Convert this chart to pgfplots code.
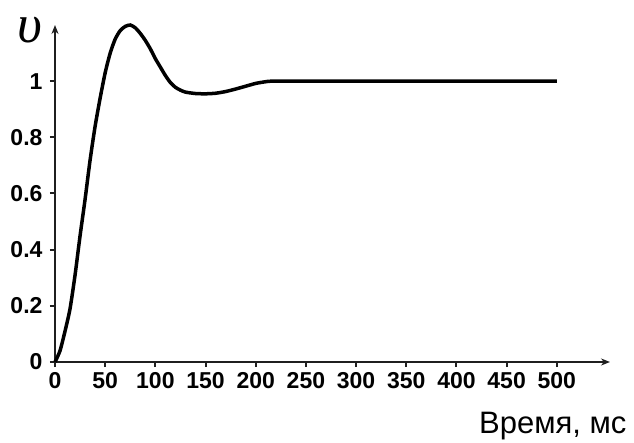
\documentclass[border=0pt]{standalone}
\usepackage{fontspec}
\setmainfont{Liberation Sans}
\newfontfamily\serifit{Liberation Serif}
\usepackage{pgfplots}
\pgfplotsset{compat=1.18}
\usetikzlibrary{arrows.meta}
\begin{document}
\begin{tikzpicture}
\begin{axis}[
  scale only axis, width=555pt, height=337pt,
  xmin=0, xmax=553, ymin=0, ymax=1.2,
  axis lines=left,
  axis line style={line width=2.5pt, color=black!88, -{Stealth[length=9pt,width=7pt]}},
  xtick={0,50,...,500}, ytick={0,0.2,0.4,0.6,0.8,1},
  tick align=outside, major tick length=5pt,
  tick style={line width=2pt, color=black!88},
  ticklabel style={font=\bfseries\fontsize{23}{23}\selectfont},
  xticklabel style={yshift=-2pt},
  /pgf/number format/assume math mode=true,
  yticklabel style={/pgf/number format/fixed, xshift=-4pt},
  xlabel={Время, мс},
  xlabel style={at={(rel axis cs:1,0)}, anchor=base east, xshift=20pt, yshift=-71pt, font=\fontsize{31}{31}\selectfont},
  ylabel={\serifit\itshape υ},
  ylabel style={rotate=-90, at={([xshift=-25pt,yshift=-5pt]rel axis cs:0,1)}, anchor=center, font=\fontsize{54}{54}\selectfont},
  clip=false,
]
\addplot[line width=3.5pt, black, smooth, tension=0.4] coordinates {
(0,0) (5,0.04) (10,0.11) (15,0.19) (20,0.31) (25,0.45) (30,0.58) (35,0.72)
(40,0.84) (45,0.94) (50,1.03) (55,1.10) (60,1.15) (65,1.18) (70,1.195)
(75,1.2) (80,1.19) (85,1.17) (90,1.145) (95,1.115) (100,1.08) (105,1.05)
(110,1.02) (115,0.995) (120,0.978) (125,0.968) (130,0.961) (140,0.956)
(150,0.955) (160,0.957) (170,0.963) (180,0.972) (190,0.982) (200,0.992)
(210,0.998) (220,1) (300,1) (400,1) (500,1)
};
\path ([xshift=-55pt,yshift=-77pt]rel axis cs:0,0) rectangle ([xshift=24pt,yshift=25pt]rel axis cs:1,1);
\end{axis}
\end{tikzpicture}
\end{document}
